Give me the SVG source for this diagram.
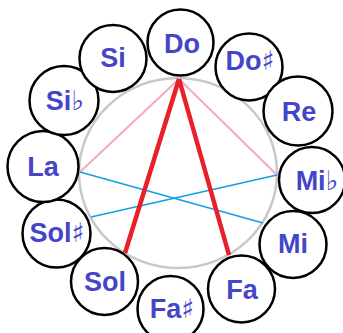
<svg xmlns="http://www.w3.org/2000/svg" width="343" height="333" viewBox="0 0 343 333">
<style>
.n circle{fill:#fff;stroke:#000;stroke-width:2.5}
.n text{font-family:"Liberation Sans","DejaVu Sans",sans-serif;font-weight:bold;font-size:27px;fill:#4545c8;text-anchor:middle}
.acc{font-family:"DejaVu Sans",sans-serif;font-weight:normal;font-size:27px}
.pink{stroke:#f7a8c0;stroke-width:2}
.red{stroke:#e8202a;stroke-width:4.5}
.blue{stroke:#12a0e0;stroke-width:1.6}
</style>
<ellipse cx="178" cy="173" rx="99" ry="95" fill="none" stroke="#c8c8c8" stroke-width="2.5"/>
<g id="connectors" fill="none">
<line class="pink" x1="179" y1="79" x2="80" y2="172"/>
<line class="pink" x1="179" y1="79" x2="277" y2="175"/>
<line class="blue" x1="80" y1="172" x2="263" y2="223"/>
<line class="blue" x1="91" y1="217" x2="277" y2="175"/>
<line class="red" x1="179" y1="79" x2="125" y2="253"/>
<line class="red" x1="179" y1="79" x2="229" y2="255"/>
</g>
<g id="Do" class="n"><circle cx="180.5" cy="42.5" r="33"/><text x="182" y="53">Do</text></g>
<g id="Dos" class="n"><circle cx="249" cy="67" r="33.5"/><text x="250" y="70">Do<tspan class="acc">♯</tspan></text></g>
<g id="Re" class="n"><circle cx="298" cy="111" r="34.5"/><text x="299" y="121">Re</text></g>
<g id="Mib" class="n"><circle cx="312" cy="180" r="33"/><text x="317" y="190">Mi<tspan class="acc">♭</tspan></text></g>
<g id="Mi" class="n"><circle cx="293" cy="244.5" r="33.5"/><text x="293" y="253">Mi</text></g>
<g id="Fa" class="n"><circle cx="241.5" cy="289" r="33.5"/><text x="242" y="299">Fa</text></g>
<g id="Fas" class="n"><circle cx="170.5" cy="309" r="33"/><text x="172" y="318">Fa<tspan class="acc">♯</tspan></text></g>
<g id="Sol" class="n"><circle cx="104.5" cy="281.5" r="33.5"/><text x="105" y="291">Sol</text></g>
<g id="Sols" class="n"><circle cx="56.5" cy="233.5" r="34"/><text x="57" y="242">Sol<tspan class="acc">♯</tspan></text></g>
<g id="La" class="n"><circle cx="43" cy="166.5" r="35.5"/><text x="43" y="176">La</text></g>
<g id="Sib" class="n"><circle cx="64" cy="100.5" r="34.5"/><text x="65" y="110">Si<tspan class="acc">♭</tspan></text></g>
<g id="Si" class="n"><circle cx="113" cy="58.5" r="33.5"/><text x="113" y="67">Si</text></g>
</svg>
